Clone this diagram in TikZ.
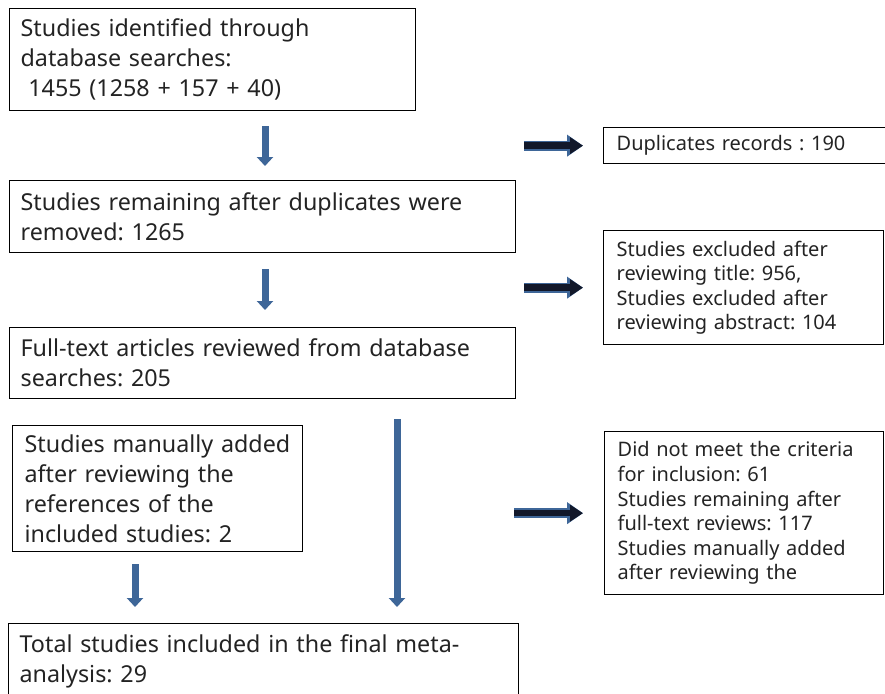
\documentclass[tikz,border=0pt]{standalone}
\usepackage{fontspec}
\setmainfont{Noto Sans}
\usetikzlibrary{arrows.meta}
\frenchspacing
\definecolor{txt}{RGB}{35,35,35}
\definecolor{arrblue}{RGB}{62,102,152}
\definecolor{arrnavy}{RGB}{18,24,42}
\newcommand{\bigfs}{\fontsize{23.3}{30}\selectfont}
\newcommand{\smallfs}{\fontsize{20}{24.6}\selectfont}
\tikzset{
  box/.style={draw=black, line width=1.3pt, rectangle, anchor=north west,
    inner ysep=0pt, align=left, text=txt},
  mainbox/.style={box, font=\bigfs, inner xsep=11pt},
  sidebox/.style={box, font=\smallfs, inner xsep=13pt},
  darr/.style={draw=arrblue, line width=7pt, -{Triangle[length=9pt,width=16pt]}},
  rarr/.style={draw=arrnavy, line width=6.5pt, -{Triangle[length=13pt,width=16pt]},
    preaction={draw=arrblue, line width=10pt, -{Triangle[length=16pt,width=21pt]}}},
}
\begin{document}
\begin{tikzpicture}[x=1pt,y=-1pt]
\useasboundingbox (0,0) rectangle (885,693);
% main column
\node[mainbox, minimum width=406pt, minimum height=102pt, text width=384pt] (b1) at (9,8)
  {Studies identified through\\database searches:\\\ 1455 (1258 + 157 + 40)};
\node[mainbox, minimum width=506pt, minimum height=72pt, text width=484pt] (b2) at (9,180)
  {Studies remaining after duplicates were\\removed: 1265};
\node[mainbox, minimum width=506pt, minimum height=71pt, text width=484pt] (b3) at (9,327)
  {Full-text articles reviewed from database\\searches: 205};
\node[mainbox, inner xsep=9pt, minimum width=290pt, minimum height=126pt, text width=272pt] (man) at (12,425)
  {\hspace*{3pt}Studies manually added\\\hspace*{3pt}after reviewing the\\\hspace*{3pt}references of the\\\hspace*{3pt}included studies: 2};
\node[mainbox, minimum width=510pt, minimum height=76pt, text width=488pt] (fin) at (8,623)
  {\raisebox{3pt}{\parbox{488pt}{Total studies included in the final meta-\\analysis: 29}}};
% side column
\node[sidebox, minimum width=292pt, minimum height=36pt, text width=266pt] (dup) at (603,127)
  {Duplicates records : 190};
\node[sidebox, minimum width=280pt, minimum height=114pt, text width=254pt] (exc) at (603,230)
  {Studies excluded after\\reviewing title: 956,\\Studies excluded after\\reviewing abstract: 104};
\node[sidebox, minimum width=279pt, minimum height=163pt, text width=253pt] (cri) at (604,431)
  {Did not meet the criteria\\for inclusion: 61\\Studies remaining after\\full-text reviews: 117\\Studies manually added\\after reviewing the};
% down arrows
\draw[darr, shorten <=15pt, shorten >=14pt] (b1.south -| 265,0) -- (b2.north -| 265,0);
\draw[darr, shorten <=16pt, shorten >=17pt] (b2.south -| 265,0) -- (b3.north -| 265,0);
\draw[darr, shorten <=20pt, shorten >=16pt] (b3.south -| 397,0) -- (fin.north -| 397,0);
\draw[darr, shorten <=12pt, shorten >=16pt] (man.south -| 135,0) -- (fin.north -| 135,0);
% right arrows
\draw[rarr, shorten <=8pt, shorten >=20pt] (dup.west -| b2.east) -- (dup.west);
\draw[rarr, shorten <=8pt, shorten >=20pt] (exc.west -| b2.east) -- (exc.west);
\draw[rarr, shorten <=-2pt, shorten >=21pt] (cri.west -| b3.east) -- (cri.west);
\end{tikzpicture}
\end{document}
